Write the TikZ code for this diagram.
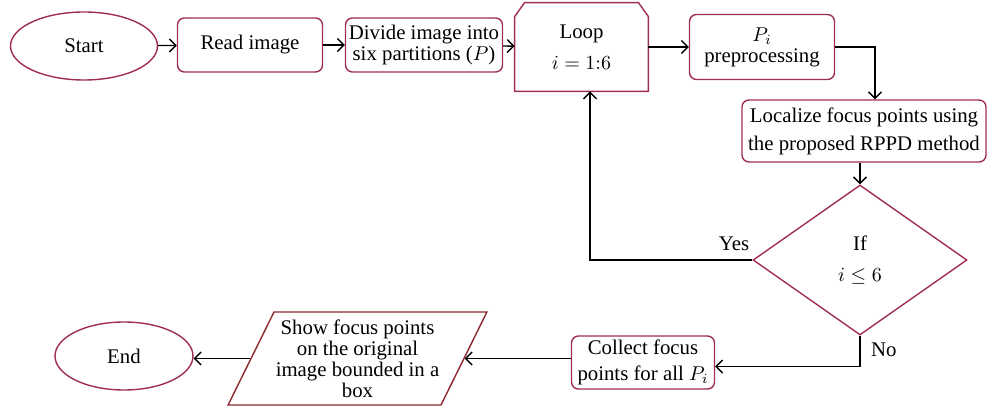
\documentclass[tikz,border=0pt]{standalone}
\usepackage{fontspec}
\setmainfont{Liberation Serif}
\usetikzlibrary{shapes.geometric,arrows.meta}
\definecolor{boxred}{RGB}{160,45,85}
\definecolor{iored}{RGB}{140,40,45}
\begin{document}
\begin{tikzpicture}[x=0.5pt,y=-0.5pt,
  font=\fontsize{10.4}{10.5}\selectfont,
  flow/.style={-{Straight Barb[length=3.2pt,width=6.5pt]},line width=0.7pt},
  terminal/.style={ellipse,draw=boxred,line width=0.7pt,inner sep=0pt},
  process/.style={rectangle,rounded corners=3.5pt,draw=boxred,line width=0.7pt,inner sep=0pt,align=center},
  decision/.style={diamond,draw=boxred,line width=0.7pt,inner sep=0pt,align=center},
  io/.style={trapezium,trapezium left angle=60,trapezium right angle=120,trapezium stretches=true,draw=iored,line width=0.7pt,inner sep=0pt,align=center}]
\useasboundingbox (0,0) rectangle (988,410);
% Top row
\node[terminal,minimum width=73.5pt,minimum height=34pt] (start) at (84,46) {Start};
\node[process,minimum width=72.5pt,minimum height=27pt] (read) at (250,45) {Read image};
\node[process,minimum width=78.5pt,minimum height=27pt] (divide) at (424,45) {Divide image into\\six partitions ($P$)};
\node[minimum width=66.5pt,minimum height=44pt,inner sep=0pt,align=center] (loop) at (581.5,47) {Loop\\[5pt]$i=1{:}6$};
\draw[boxred,line width=0.7pt] (loop.south west) -- ([yshift=-7pt]loop.north west) -- ([xshift=5pt]loop.north west)
  -- ([xshift=-5pt]loop.north east) -- ([yshift=-7pt]loop.north east) -- (loop.south east) -- cycle;
\node[process,minimum width=72.5pt,minimum height=32.5pt] (pre) at (762,47) {$P_i$\\preprocessing};
% Right column
\node[process,minimum width=122pt,minimum height=31pt] (localize) at (864,131) {Localize focus points using\\[3.5pt]the proposed RPPD method};
\node[decision,minimum width=107pt,minimum height=75pt] (check) at (860,260) {If\\[5pt]$i\le 6$};
% Bottom row
\node[process,minimum width=71.5pt,minimum height=26.5pt] (collect) at (643,362.5) {Collect focus\\[2.5pt]points for all $P_i$};
\node[io,minimum width=129.5pt,minimum height=46.5pt] (show) at (357.5,358.5) {Show focus points\\on the original\\image bounded in a\\box};
\node[terminal,minimum width=69pt,minimum height=34pt] (end) at (124,356) {End};
\coordinate (yesturn) at (590,260);
% Draw connectors
\draw[flow] (start) -- (read);
\draw[flow] (read) -- (divide);
\draw[flow] (divide) -- (loop);
\draw[flow] (loop) -- (pre);
\draw[flow] (pre.east) -| ([xshift=5.5pt]localize.north);
\draw[flow] (localize.south -| check.north) -- (check.north);
\draw[flow] (check.west) -- (yesturn) -- (yesturn |- loop.south);
\node[above left,xshift=2pt,yshift=1pt] (yes) at (check.west) {Yes};
\draw[flow] (check.south) |- ([yshift=-2pt]collect.east);
\node[below right,xshift=2pt] (no) at (check.south) {No};
\draw[flow] (show.east -| collect.west) -- (show.east);
\draw[flow] (show.west) -- (show.west -| end.east);
\end{tikzpicture}
\end{document}
